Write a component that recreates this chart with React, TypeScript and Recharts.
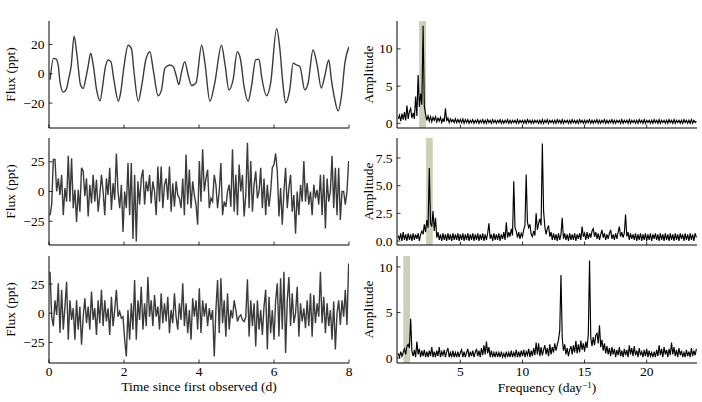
import React from "react";
import { LineChart, Line, XAxis, YAxis, ReferenceArea } from "recharts";

const FONT = "'Liberation Serif', 'DejaVu Serif', serif";
const FS = 13.5;

// light curves (flux in ppt)
const timesA = [
  0.03, 0.12, 0.19, 0.25, 0.29, 0.38, 0.47, 0.52, 0.59, 0.67,
  0.74, 0.84, 0.91, 0.99, 1.05, 1.11, 1.18, 1.27, 1.36, 1.43,
  1.49, 1.58, 1.65, 1.73, 1.85, 1.91, 2.0, 2.11, 2.2, 2.27,
  2.38, 2.47, 2.58, 2.69, 2.78, 2.91, 3.0, 3.09, 3.22, 3.31,
  3.4, 3.46, 3.53, 3.62, 3.71, 3.8, 3.92, 4.07, 4.16, 4.29,
  4.42, 4.6, 4.69, 4.8, 4.91, 5.02, 5.11, 5.2, 5.31, 5.4,
  5.51, 5.6, 5.67, 5.8, 5.91, 6.07, 6.15, 6.24, 6.31, 6.42,
  6.51, 6.6, 6.69, 6.82, 6.91, 7.04, 7.15, 7.26, 7.35, 7.46,
  7.53, 7.62, 7.71, 7.8, 7.89, 8.0,
];
const fluxA = [
  -4, 10.5, 10, 5, -5, -12.5, -10, -4, 5, 25.6,
  14, -7.5, -10, -2, 6, 14, 6, -11, -18.5, -8.5,
  2.7, 9.4, 8.3, -4, -18.7, -13, 5, 19.5, 17, 0.5,
  -18.7, -8.5, 9.4, 15, 2.7, -15, -11, 3.8, 6, 5,
  -2, -7.4, 0.5, 8.3, -0.7, -8, -6.3, 19.5, 7, -18.7,
  -6.3, 19.5, 7, -11, -4, 15, 9.4, -8.5, -18.7, -8.5,
  9.4, 10, -2, -15, -6.3, 30.8, 18.6, -7.4, -19.8, -11,
  7.2, 6, 5, -11, -6.3, 16.2, 6, -9.7, -2, 9.4,
  -4, -17.5, -25.4, -15, 7.2, 18.4,
];
const fluxB = [
  -20, -11, 27, 27, 0, 11, -3, 14, -20, 3,
  -8.5, 30, -8.5, 28, -14, 1.4, -25.6, 1.4, -17, 20,
  17, -4, 11, -21, 5.7, -10, 14, -8.5, 10, -17,
  -3, 14, 0, -20, 11, -3, 20, -15.6, 7, -7,
  32, 0, -14, 5.7, -34, 0, -14, 24, -20, 24,
  -40, 14, -42, 8.5, -11, 11, 18.5, -11, 8.5, 0,
  14, -10, 8.5, 0, -20, 21, -8.5, 21, -14, 5.7,
  11, -7, 21, -17, 7, -12.8, 8.5, -3, -5.7, -14,
  11, -20, 31, -11, 18.5, -14, 8.5, -3, -11, -28,
  25.6, -8.5, 35.5, 0, 11, 18.5, -14, -5.7, -8.5, 14,
  5.7, -14, 0, 24, -20, -8.5, -12.8, 0, 5.7, -12.8,
  35.5, -17, 14, -20, 22.7, 0, 14, -21, -3, 41,
  -14, 25.6, -17, 5.7, 17, -5.7, 0, 20, -14, 11,
  -20, 5.7, -12.8, 0, 20, 22.7, 32, 17, -21, 3,
  -28, 0, 20, -14, 3, 14, -17, -3, -35.5, 0,
  -20, 5.7, -8.5, 25.6, -8.5, 7, -11, 0, -20, 5.7,
  -5.7, 1.4, -11, 14, -20, 14, -31, 11, -8.5, 0,
  30, -14, 20, -20, 20, -24, 0, 0, -11, 0,
  25.6,
];
const fluxC = [
  35.5, -3, -11, 11, -1.4, 25.6, -17, 20, -14, 5.7,
  27, -22.7, 11, -5.7, 4.3, -22.7, 11, -14, 5.7, -27,
  -3, 12.8, -8.5, 5.7, -14, 18.5, -5.7, 4.3, -18.5, 11,
  -8.5, 20, -11, 11, -7, 4.3, -18.5, 14, -11, 2.8,
  20, -3, 1.4, -4.3, -3, -22.7, -37, 2.8, -22.7, 8.5,
  -14, 28.4, -22.7, 11, -5.7, 22.7, -14, 8.5, -11, 31,
  -3, 11, -11, 15.6, -3, 5.7, -14, 17, -8.5, 8.5,
  -7, 14, -17, 2.8, -8.5, 17, -3, -14, 8.5, -5.7,
  25.6, -11, 8.5, -17, 2.8, -22.7, 12.8, -3, 11, -14,
  21.3, -17, 11, -3, 8.5, -11, 4.3, -5.7, 2.8, -37,
  2.8, 28.4, -17, 30, -8.5, 11, -20, 17, -14, 2.8,
  -4.3, 11, 2.8, -7, -3, -1.4, -5.7, -7, -3, 29,
  -20, 11, -11, 8.5, -28.4, 11, -14, 2.8, -18.5, 5.7,
  20, -31, 14, -17, 2.8, -22.7, 11, 25.6, -20, 30,
  -14, 35.5, -34, 11, 31, -11, 17, -8.5, 0, 22.7,
  -20, 8.5, -7, 4.3, -12.8, 11, -11, 17, -20, 15.6,
  -8.5, 8.5, -3, 35.5, -8.5, 14, -17, 8.5, -11, 2.8,
  -22.7, 10, -31, 0, 11, -10, 11, -3, 20, -10,
  42.6,
];
const T0 = 0.027;
const DT = 0.04424;

// amplitude spectra, one value per 0.1 day^-1 from 0
const FSTEP = 0.1;
const ampA = [
  0.6, 1.1, 0.3, 1.3, 0.5, 1.5, 0.4, 2.4, 0.6, 1.6,
  2.0, 0.7, 1.4, 0.6, 3.6, 1.0, 6.5, 2.2, 4.0, 2.5,
  13.1, 2.3, 1.2, 0.4, 1.0, 0.3, 0.9, 0.2, 0.8, 0.4,
  0.9, 0.2, 0.7, 0.3, 0.8, 0.1, 0.6, 0.2, 2.0, 0.3,
  0.7, 0.1, 0.6, 0.2, 0.5, 0.1, 0.6, 0.1, 0.5, 0.1,
  0.5, 0.1, 0.6, 0.0, 0.5, 0.1, 0.5, 0.0, 0.4, 0.1,
  0.5, 0.0, 0.4, 0.1, 0.5, 0.0, 0.4, 0.1, 0.5, 0.0,
  0.4, 0.0, 0.5, 0.1, 0.4, 0.0, 0.5, 0.1, 0.4, 0.0,
  0.4, 0.1, 0.5, 0.0, 0.4, 0.0, 0.4, 0.1, 0.5, 0.0,
  0.4, 0.0, 0.4, 0.1, 0.4, 0.0, 0.5, 0.0, 0.4, 0.1,
  0.4, 0.0, 0.4, 0.0, 0.5, 0.1, 0.4, 0.0, 0.4, 0.0,
  0.4, 0.1, 0.4, 0.0, 0.4, 0.0, 0.5, 0.0, 0.4, 0.1,
  0.5, 0.0, 0.4, 0.1, 0.4, 0.0, 0.4, 0.0, 0.5, 0.1,
  0.4, 0.0, 0.5, 0.0, 0.4, 0.1, 0.4, 0.0, 0.4, 0.0,
  0.5, 0.1, 0.4, 0.0, 0.4, 0.0, 0.5, 0.1, 0.4, 0.0,
  0.4, 0.0, 0.4, 0.1, 0.5, 0.0, 0.4, 0.0, 0.4, 0.1,
  0.5, 0.0, 0.4, 0.0, 0.4, 0.1, 0.5, 0.0, 0.4, 0.0,
  0.4, 0.1, 0.5, 0.0, 0.4, 0.0, 0.4, 0.1, 0.4, 0.0,
  0.5, 0.0, 0.4, 0.1, 0.4, 0.0, 0.5, 0.0, 0.4, 0.1,
  0.4, 0.0, 0.4, 0.0, 0.5, 0.1, 0.4, 0.0, 0.5, 0.0,
  0.4, 0.1, 0.4, 0.0, 0.4, 0.0, 0.5, 0.1, 0.4, 0.0,
  0.5, 0.0, 0.4, 0.1, 0.4, 0.0, 0.4, 0.0, 0.5, 0.1,
  0.4, 0.0, 0.5, 0.0, 0.4, 0.1, 0.4, 0.0, 0.4, 0.0,
  0.5, 0.1, 0.4, 0.0, 0.4, 0.0, 0.5, 0.0, 0.4, 0.1,
  0.3,
];
const ampB = [
  0.5, 0.1, 0.7, 0.0, 0.8, 0.1, 0.6, 0.0, 0.7, 0.1,
  0.6, 0.0, 0.7, 0.1, 0.6, 0.2, 0.7, 0.0, 0.6, 0.9,
  0.6, 1.5, 0.8, 1.9, 1.2, 6.6, 1.6, 1.3, 2.7, 0.9,
  2.1, 0.3, 0.8, 0.1, 0.6, 0.0, 0.7, 0.1, 0.6, 0.0,
  0.7, 0.1, 0.6, 0.0, 0.7, 0.1, 0.6, 0.1, 0.7, 0.0,
  0.6, 0.1, 0.7, 0.0, 0.6, 0.1, 0.7, 0.0, 0.6, 0.1,
  0.7, 0.0, 0.6, 0.1, 0.7, 0.0, 0.6, 0.1, 0.7, 0.0,
  0.6, 0.1, 0.7, 1.6, 0.2, 0.6, 0.0, 0.7, 0.1, 0.6,
  0.1, 0.7, 0.0, 0.6, 0.2, 0.8, 0.1, 1.7, 0.3, 0.8,
  0.4, 1.1, 0.5, 5.4, 1.2, 0.9, 0.3, 0.8, 0.2, 0.7,
  0.4, 1.0, 1.4, 6.0, 1.7, 1.2, 1.5, 0.6, 0.4, 0.9,
  0.5, 2.5, 1.0, 1.6, 2.0, 1.4, 8.8, 2.7, 1.3, 0.6,
  1.1, 1.4, 0.4, 0.8, 0.1, 0.7, 0.1, 0.6, 0.0, 0.7,
  0.1, 0.6, 2.1, 0.2, 0.7, 0.1, 0.6, 0.0, 0.7, 0.1,
  0.6, 0.1, 0.7, 0.0, 0.6, 0.2, 0.7, 0.1, 1.3, 0.4,
  0.7, 0.1, 0.8, 0.2, 0.7, 0.3, 0.9, 1.1, 0.4, 0.8,
  0.2, 0.7, 0.1, 0.6, 1.0, 0.3, 0.7, 0.1, 0.6, 0.2,
  0.7, 1.0, 0.2, 0.6, 0.1, 0.7, 0.2, 0.8, 1.3, 0.4,
  0.8, 0.3, 0.7, 2.4, 0.4, 0.8, 0.1, 0.7, 0.2, 0.6,
  0.1, 0.7, 0.0, 0.6, 0.1, 0.7, 0.0, 0.6, 0.1, 0.7,
  0.0, 0.6, 0.1, 0.7, 0.0, 0.6, 0.2, 0.7, 0.1, 0.6,
  0.0, 0.7, 0.1, 0.6, 0.0, 0.7, 0.1, 0.6, 0.0, 0.7,
  0.1, 0.6, 0.0, 0.7, 0.1, 0.6, 0.0, 0.7, 0.2, 0.6,
  0.0, 0.7, 0.1, 0.6, 0.0, 0.7, 0.1, 0.6, 0.0, 0.7,
  0.3,
];
const ampC = [
  0.5, 0.1, 0.7, 0.2, 0.6, 1.0, 0.4, 1.3, 1.5, 1.1,
  4.3, 0.7, 0.2, 0.9, 0.1, 1.8, 0.4, 1.0, 0.1, 0.8,
  0.2, 0.9, 0.1, 0.7, 0.1, 0.8, 0.2, 1.2, 0.1, 0.7,
  0.1, 0.8, 0.2, 1.2, 0.1, 0.7, 0.3, 0.9, 0.1, 0.7,
  1.1, 0.1, 0.6, 0.1, 0.8, 0.1, 0.6, 0.1, 0.7, 0.1,
  0.6, 0.9, 0.1, 0.7, 0.1, 0.6, 1.0, 0.1, 0.7, 0.2,
  0.8, 0.1, 0.6, 1.0, 0.2, 0.8, 0.1, 1.1, 0.3, 1.4,
  0.4, 1.8, 0.5, 1.2, 0.1, 0.8, 0.1, 0.6, 0.1, 0.7,
  0.1, 0.6, 0.1, 0.7, 0.1, 0.5, 0.1, 0.7, 0.1, 0.6,
  0.1, 0.8, 0.1, 0.6, 0.2, 0.9, 0.1, 0.7, 0.1, 0.8,
  0.2, 0.9, 0.1, 0.7, 0.3, 1.0, 0.1, 0.8, 0.2, 1.1,
  0.3, 1.7, 0.4, 1.6, 0.2, 1.2, 0.3, 0.9, 1.4, 0.4,
  1.1, 0.2, 1.5, 0.4, 1.2, 0.6, 1.6, 0.8, 1.4, 2.0,
  3.0, 9.1, 2.2, 0.8, 1.5, 0.4, 1.1, 0.2, 0.9, 1.3,
  0.4, 1.4, 0.6, 1.9, 0.5, 1.5, 0.6, 1.9, 0.9, 1.6,
  0.7, 1.8, 1.1, 2.6, 10.7, 2.2, 1.3, 2.3, 1.4, 2.5,
  2.7, 1.6, 3.6, 1.2, 2.0, 0.8, 1.6, 0.5, 1.3, 0.4,
  1.1, 0.2, 1.2, 0.4, 1.0, 0.1, 0.9, 0.3, 1.2, 0.2,
  0.8, 0.1, 1.0, 0.3, 0.9, 0.1, 1.4, 0.4, 1.1, 0.2,
  1.3, 0.3, 0.8, 0.1, 1.1, 0.3, 0.7, 0.1, 0.9, 0.2,
  1.0, 0.1, 0.8, 0.2, 0.6, 0.1, 0.7, 0.1, 0.9, 0.2,
  1.4, 0.3, 1.0, 0.1, 1.2, 0.4, 0.9, 0.1, 1.0, 0.3,
  1.7, 0.4, 1.2, 0.2, 0.9, 0.1, 1.1, 0.3, 0.8, 0.1,
  0.6, 0.1, 0.9, 0.2, 0.7, 0.1, 1.1, 0.2, 0.8, 0.3,
  1.0,
];

// highlighted frequency ranges
const bandA: [number, number] = [1.68, 2.24];
const bandB: [number, number] = [2.24, 2.78];
const bandC: [number, number] = [0.41, 0.95];

const timeTicks = [0, 2, 4, 6, 8];
const freqTicks = [5, 10, 15, 20];
const fluxTicksA = [-20, 0, 20];
const fluxTicksBC = [-25, 0, 25];
const ampTicksAC = [0, 5, 10];
const ampTicksB = [0, 2.5, 5, 7.5];

const lcA = timesA.map((t, i) => ({ x: t, y: fluxA[i] }));
const lcB = fluxB.map((f, i) => ({ x: T0 + i * DT, y: f }));
const lcC = fluxC.map((f, i) => ({ x: T0 + i * DT, y: f }));
const toSpec = (a: number[]) => a.map((v, i) => ({ x: +(i * FSTEP).toFixed(1), y: v }));

const PLOT_W = 300;
const PLOT_H = 107;
const XH = 1;
const ROWS = [21, 138, 256];

const minus = (v: number) => (v < 0 ? "\u2212" + Math.abs(v) : String(v));

function SvgLabel({ tx, ty, text, anchor = "middle", rot = false }: any) {
  return (
    <text
      x={tx}
      y={ty}
      textAnchor={anchor}
      transform={rot ? `rotate(-90 ${tx} ${ty})` : undefined}
      fontFamily={FONT}
      fontSize={FS}
      fill="#000"
    >
      {text}
    </text>
  );
}

function FreqLabel({ tx, ty }: any) {
  return (
    <text x={tx} y={ty} textAnchor="middle" fontFamily={FONT} fontSize={FS} fill="#000">
      <tspan>Frequency (day</tspan>
      <tspan dy={-4.5} fontSize={9}>{"\u22121"}</tspan>
      <tspan dy={4.5}>)</tspan>
    </text>
  );
}

const yTick = (plotLeft: number, fmt: (v: number) => string) => (p: any) => (
  <g>
    <line x1={plotLeft} x2={plotLeft + 3.5} y1={p.y} y2={p.y} stroke="#000" strokeWidth={0.8} />
    <text x={plotLeft - 4.5} y={p.y} dy="0.34em" textAnchor="end" fontFamily={FONT} fontSize={FS} fill="#000">
      {fmt(p.payload.value)}
    </text>
  </g>
);

const xTick = (plotBottom: number, show: boolean) => (p: any) => (
  <g>
    <line x1={p.x} x2={p.x} y1={plotBottom} y2={plotBottom - 3.5} stroke="#000" strokeWidth={0.8} />
    {show && (
      <text x={p.x} y={plotBottom + 13} textAnchor="middle" fontFamily={FONT} fontSize={FS} fill="#000">
        {p.payload.value}
      </text>
    )}
  </g>
);

function Panel(props: any) {
  const { left, axisW, top, data, xDomain, yDomain, xTicks, yTicks, yFmt, showX, stroke, sw, curve, band, yLabel, xLabel, topLabel } = props;
  const width = axisW + PLOT_W + 4;
  const bottom = top + PLOT_H;
  return (
    <div style={{ position: "absolute", left, top: 0 }}>
      <LineChart width={width} height={402} data={data} margin={{ top, right: 4, left: 0, bottom: 402 - bottom - XH }}>
        <XAxis
          dataKey="x"
          type="number"
          domain={xDomain}
          ticks={xTicks}
          interval={0}
          allowDataOverflow
          height={XH}
          tickLine={false}
          axisLine={{ stroke: "#000" }}
          tick={xTick(bottom, showX)}
          label={xLabel}
        />
        <XAxis
          xAxisId="top"
          orientation="top"
          dataKey="x"
          type="number"
          domain={xDomain}
          allowDataOverflow
          height={0}
          tick={false}
          tickLine={false}
          axisLine={{ stroke: "#000" }}
          label={topLabel}
        />
        <YAxis
          type="number"
          domain={yDomain}
          ticks={yTicks}
          interval={0}
          allowDataOverflow
          width={axisW}
          tickLine={false}
          axisLine={{ stroke: "#000" }}
          tick={yTick(axisW, yFmt)}
          label={yLabel}
        />
        <YAxis
          yAxisId="right"
          orientation="right"
          type="number"
          domain={yDomain}
          allowDataOverflow
          width={0}
          tick={false}
          tickLine={false}
          axisLine={{ stroke: "#000" }}
        />
        <Line dataKey="y" type={curve} stroke={stroke} strokeWidth={sw} dot={false} isAnimationActive={false} />
        {band && (
          <ReferenceArea x1={band[0]} x2={band[1]} fill="#6b7a2f" fillOpacity={0.35} stroke="none" ifOverflow="hidden" />
        )}
      </LineChart>
    </div>
  );
}

export default function App() {
  const mid = (r: number) => ROWS[r] + PLOT_H / 2;
  const leftCommon = { left: 0, axisW: 49, xDomain: [0, 8], xTicks: timeTicks, stroke: "#3b3b3b", sw: 1.4 };
  const rightCommon = { left: 350, axisW: 47, xDomain: [-0.1, 24.05], xTicks: freqTicks, stroke: "#000", sw: 1.15, curve: "linear" };
  const fluxLabel = (r: number) => <SvgLabel tx={15} ty={mid(r)} text="Flux (ppt)" rot />;
  const ampLabel = (r: number) => <SvgLabel tx={22.5} ty={mid(r)} text="Amplitude" rot />;
  const corner = (r: number, t: string) => <SvgLabel tx={344} ty={ROWS[r] + 13} text={t} anchor="end" />;
  return (
    <div style={{ position: "absolute", left: 0, top: 0, width: 702, height: 402, background: "#fff" }}>
      <Panel {...leftCommon} top={ROWS[0]} data={lcA} curve="monotone" yDomain={[-37, 36]} yTicks={fluxTicksA} yFmt={minus}
        showX={false} yLabel={fluxLabel(0)} topLabel={<SvgLabel tx={349} ty={14} text="g-mode sample" anchor="end" />} />
      <Panel {...leftCommon} top={ROWS[1]} data={lcB} curve="linear" yDomain={[-45, 45]} yTicks={fluxTicksBC} yFmt={minus}
        showX={false} yLabel={fluxLabel(1)} />
      <Panel {...leftCommon} top={ROWS[2]} data={lcC} curve="linear" yDomain={[-42.6, 49]} yTicks={fluxTicksBC} yFmt={minus}
        showX yLabel={fluxLabel(2)} xLabel={<SvgLabel tx={199} ty={391} text="Time since first observed (d)" />} />
      <Panel {...rightCommon} top={ROWS[0]} data={toSpec(ampA)} yDomain={[-0.63, 13.75]} yTicks={ampTicksAC} yFmt={(v: number) => String(v)}
        showX={false} band={bandA} yLabel={ampLabel(0)} topLabel={corner(0, "a)")} />
      <Panel {...rightCommon} top={ROWS[1]} data={toSpec(ampB)} yDomain={[-0.36, 9.3]} yTicks={ampTicksB} yFmt={(v: number) => v.toFixed(1)}
        showX={false} band={bandB} yLabel={ampLabel(1)} topLabel={corner(1, "b)")} />
      <Panel {...rightCommon} top={ROWS[2]} data={toSpec(ampC)} yDomain={[-0.55, 11.2]} yTicks={ampTicksAC} yFmt={(v: number) => String(v)}
        showX band={bandC} yLabel={ampLabel(2)} topLabel={corner(2, "c)")} xLabel={<FreqLabel tx={197} ty={392} />} />
    </div>
  );
}
